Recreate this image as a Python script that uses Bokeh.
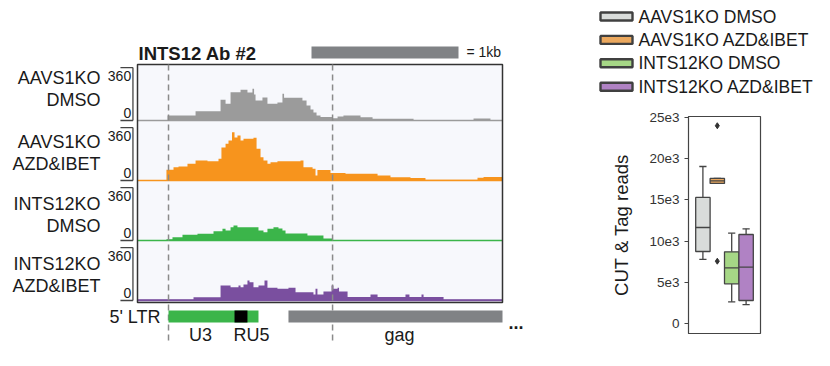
from bokeh.plotting import figure
from bokeh.models import Range1d, FixedTicker
from bokeh.layouts import row, column
from bokeh.embed import file_html
from bokeh.resources import INLINE
from bokeh.core.properties import value

FONT = "Liberation Sans"

# ---------------- data: CUT&Tag coverage tracks (bp from region start, signal 0-360) -------------
track_line1 = ["AAVS1KO", "AAVS1KO", "INTS12KO", "INTS12KO"]
track_line2 = ["DMSO", "AZD&IBET", "DMSO", "AZD&IBET"]
track_colors = ["#9b9b9b", "#f7941d", "#3bb54a", "#7a4f9f"]
track_max = 360
region_len = 2483
scale_bar_bp = 1000

aavs_dmso_edges = [0, 204, 395, 565, 599, 633, 701, 748, 782, 793, 803, 850, 884, 952, 986, 997,
                   1122, 1150, 1177, 1197, 1218, 1245, 1327, 1361, 1401, 1517, 1599, 1878, 2286,
                   2401, 2480]
aavs_dmso_vals = [0, 34, 63, 141, 114, 193, 209, 190, 216, 177, 136, 156, 114, 122, 182, 154,
                  136, 102, 75, 54, 34, 24, 16, 27, 34, 22, 12, 4, 14, 4]

aavs_azd_edges = [0, 197, 245, 279, 340, 395, 476, 551, 571, 599, 619, 643, 660, 680, 701, 721,
                  789, 810, 837, 857, 884, 905, 952, 1109, 1129, 1191, 1211, 1224, 1313, 1415,
                  1633, 1721, 1857, 1959, 2313, 2354, 2480]
aavs_azd_vals = [0, 73, 90, 95, 114, 136, 131, 148, 224, 250, 272, 329, 293, 306, 272, 284,
                 290, 216, 159, 136, 114, 124, 131, 136, 90, 80, 34, 71, 51, 46, 34, 22, 17, 5,
                 18, 24]

ints_dmso_edges = [0, 197, 238, 306, 408, 517, 578, 599, 633, 653, 680, 823, 857, 884, 925, 959,
                   986, 1007, 1156, 1265, 1327, 2480]
ints_dmso_vals = [0, 9, 22, 39, 46, 63, 80, 68, 90, 102, 90, 68, 56, 80, 90, 82, 68, 48, 34, 14, 0]

ints_azd_edges = [0, 381, 565, 633, 687, 701, 721, 748, 762, 789, 823, 864, 884, 952, 1027, 1075,
                  1197, 1211, 1224, 1265, 1320, 1333, 1361, 1371, 1429, 1585, 1633, 1823, 1850,
                  1932, 1946, 2082, 2480]
ints_azd_vals = [9, 22, 102, 90, 102, 90, 109, 136, 124, 90, 102, 136, 86, 80, 86, 56, 41, 80,
                 41, 61, 102, 80, 86, 61, 24, 41, 24, 41, 24, 41, 24, 8]

track_edges = [aavs_dmso_edges, aavs_azd_edges, ints_dmso_edges, ints_azd_edges]
track_vals = [aavs_dmso_vals, aavs_azd_vals, ints_dmso_vals, ints_azd_vals]

# genome annotation (bp)
marker_bp = [211, 1327]
ltr_start, ltr_end = 211, 823
r_start, r_end = 660, 748
gag_start, gag_end = 1027, 2483
feature_labels = ["U3", "RU5", "gag"]
feature_label_bp = [429, 776, 1782]

# ---------------- data: box plot -------------
groups = ["AAVS1KO DMSO", "AAVS1KO AZD&IBET", "INTS12KO DMSO", "INTS12KO AZD&IBET"]
box_fill = ["#d9dcda", "#eba85e", "#a6d786", "#b082c4"]
box_q1 = [8740, 17000, 4820, 2790]
box_med = [11650, 17300, 6760, 6830]
box_q3 = [15300, 17600, 8700, 10800]
box_lo = [7770, 17000, 2630, 2300]
box_hi = [19050, 17600, 10960, 11490]
outlier_group = [1, 1]
outlier_val = [24000, 7560]
y_ticks = [0, 5000, 10000, 15000, 20000, 25000]
y_tick_labels = ["0", "5e3", "10e3", "15e3", "20e3", "25e3"]

# ================= left panel: tracks =================
PX = 0.147            # screen px per bp and per signal unit
TRACK_STEP = 60 / PX  # 60 px between track baselines
W1, H = 583, 366
X0PX, Y0PX = 137, 120   # screen position of bp 0 / baseline of first track

p1 = figure(width=W1, height=H, output_backend="svg", toolbar_location=None,
            x_range=Range1d(-X0PX / PX, (W1 - X0PX) / PX),
            y_range=Range1d(-(H - Y0PX) / PX, Y0PX / PX),
            x_axis_type=None, y_axis_type=None, min_border=0,
            outline_line_color=None)

frame_top = 56 / PX
frame_bottom = -3 * TRACK_STEP - 2 / PX
p1.quad(left=0, right=region_len, bottom=frame_bottom, top=frame_top,
        fill_color="#f7f8fc", line_color=None)

txt = dict(text_font=value(FONT), text_color="#1a1a1a")
label_dy = [43, 39, 37, 37]
for k in range(4):
    base = -k * TRACK_STEP
    e, v, c = track_edges[k], track_vals[k], track_colors[k]
    p1.varea_step(x=e, y1=[base] * len(e), y2=[base + t for t in v] + [base + v[-1]],
                  step_mode="after", fill_color=c)
    p1.segment(x0=0, x1=region_len, y0=base, y1=base, line_color=c, line_width=1.5)
    # scale bracket
    bx0, bx1 = -116, -31
    p1.segment(x0=[bx0, bx0, bx1], x1=[bx1, bx1, bx1],
               y0=[base, base + track_max, base], y1=[base, base + track_max, base + track_max],
               line_color="#444444", line_width=1.3)
    p1.text(x=[-43, -43], y=[base + 45 / PX, base + 8 / PX], text=[str(track_max), "0"],
            text_align="right", text_baseline="middle", text_font_size="14px", **txt)
    p1.text(x=[-252, -252], y=[base + label_dy[k] / PX, base + (label_dy[k] - 22) / PX],
            text=[track_line1[k], track_line2[k]], text_align="right",
            text_baseline="middle", text_font_size="18px", **txt)

p1.quad(left=0, right=region_len, bottom=frame_bottom, top=frame_top,
        fill_color=None, line_color="#333333", line_width=1.5)

# dashed marker lines
p1.segment(x0=marker_bp, x1=marker_bp, y0=frame_top, y1=-223 / PX,
           line_color="#8a8a8a", line_width=1.5, line_dash="6 4")

# title and scale bar
p1.text(x=[7], y=[67.3 / PX], text=["INTS12 Ab #2"], text_align="left", text_baseline="middle",
        text_font_size="18.5px", text_font_style="bold", **txt)
sb_left = 174 / PX
p1.quad(left=sb_left, right=sb_left + scale_bar_bp, bottom=62 / PX, top=74 / PX,
        fill_color="#808285", line_color=None)
p1.text(x=[sb_left + scale_bar_bp + 8 / PX], y=[68.3 / PX], text=["= 1kb"], text_align="left",
        text_baseline="middle", text_font_size="14px", **txt)

# annotation bars
ab_bot, ab_top = -202 / PX, -190 / PX
p1.quad(left=[ltr_start, gag_start], right=[ltr_end, gag_end], bottom=ab_bot, top=ab_top,
        fill_color=["#3bb54a", "#808285"], line_color=None)
p1.quad(left=r_start, right=r_end, bottom=ab_bot, top=ab_top, fill_color="#000000", line_color=None)
p1.text(x=[ltr_start - 8 / PX], y=[(ab_bot + ab_top) / 2], text=["5' LTR"], text_align="right",
        text_baseline="middle", text_font_size="18px", **txt)
p1.text(x=feature_label_bp, y=[-214 / PX] * 3, text=feature_labels, text_align="center",
        text_baseline="middle", text_font_size="18px", **txt)
p1.text(x=[gag_end + 6 / PX], y=[ab_bot], text=["..."], text_align="left",
        text_baseline="alphabetic", text_font_size="18px", text_font_style="bold", **txt)

# ================= legend panel =================
W2 = 830 - W1
HL = 108
pleg = figure(width=W2, height=HL, output_backend="svg", toolbar_location=None,
              x_range=Range1d(0, W2), y_range=Range1d(HL, 0),
              x_axis_type=None, y_axis_type=None, min_border=0, outline_line_color=None)
leg_y = [16 + 23.4 * i for i in range(len(groups))]
pleg.rect(x=33, y=leg_y, width=32, height=8, fill_color=box_fill,
          line_color="#404040", line_width=2.4)
pleg.text(x=55, y=leg_y, text=groups, text_align="left", text_baseline="middle",
          text_font_size="17.5px", **txt)

# ================= box plot =================
F_LEFT, F_TOP, F_W, F_H = 105, 8, 72, 217
H2 = H - HL
n = len(groups)
pos = [(i - (n - 1) / 2) * 0.2 for i in range(n)]
p2 = figure(width=W2, height=H2, output_backend="svg", toolbar_location=None,
            x_range=Range1d(-0.5, 0.5), y_range=Range1d(-1214, 25121),
            x_axis_type=None, min_border_left=F_LEFT, min_border_right=W2 - F_LEFT - F_W,
            min_border_top=F_TOP, min_border_bottom=H2 - F_TOP - F_H,
            outline_line_color="#444444", outline_line_width=1.2)
p2.grid.visible = False
ln = dict(line_color="#444444", line_width=1.3)
p2.segment(x0=pos, x1=pos, y0=box_q3, y1=box_hi, **ln)
p2.segment(x0=pos, x1=pos, y0=box_q1, y1=box_lo, **ln)
p2.segment(x0=[x - 0.05 for x in pos], x1=[x + 0.05 for x in pos], y0=box_hi, y1=box_hi, **ln)
p2.segment(x0=[x - 0.05 for x in pos], x1=[x + 0.05 for x in pos], y0=box_lo, y1=box_lo, **ln)
p2.vbar(x=pos, width=0.2, bottom=box_q1, top=box_q3, fill_color=box_fill, **ln)
p2.segment(x0=[x - 0.1 for x in pos], x1=[x + 0.1 for x in pos], y0=box_med, y1=box_med, **ln)
p2.scatter(x=[pos[g] for g in outlier_group], y=outlier_val, marker="diamond", size=6,
           fill_color="#333333", line_color="#333333")

ax = p2.yaxis[0]
ax.ticker = FixedTicker(ticks=y_ticks)
ax.major_label_overrides = {t: l for t, l in zip(y_ticks, y_tick_labels)}
ax.minor_tick_line_color = None
ax.major_tick_out = 4
ax.major_tick_in = 0
ax.major_tick_line_color = "#444444"
ax.axis_line_color = "#444444"
ax.major_label_text_font = FONT
ax.major_label_text_font_size = "13.5px"
ax.major_label_text_color = "#333333"
ax.axis_label = "CUT & Tag reads"
ax.axis_label_text_font = FONT
ax.axis_label_text_font_size = "18.5px"
ax.axis_label_text_font_style = "normal"
ax.axis_label_text_color = "#1a1a1a"
ax.axis_label_standoff = 14

layout = row(p1, column(row(pleg), row(p2)))
open("out.html", "w").write(file_html(layout, INLINE))
